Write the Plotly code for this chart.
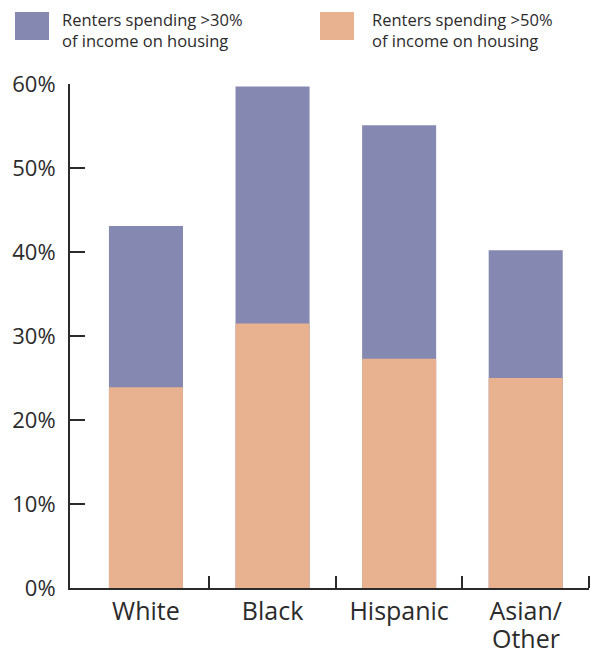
import plotly.graph_objects as go

categories = ["White", "Black", "Hispanic", "Asian/<br>Other"]
over30 = [43.1, 59.7, 55.1, 40.2]
over50 = [23.9, 31.5, 27.3, 25.0]
series_names = ["Renters spending >30%<br>of income on housing",
                "Renters spending >50%<br>of income on housing"]
y_ticks = [0, 10, 20, 30, 40, 50, 60]
y_ticktext = [f"{v}%" for v in y_ticks]

PURPLE = "#8588B0"
ORANGE = "#E8B18F"
TEXT = "#2b2b2b"

# page has an 8px body margin; figure is sized so it fits the 600x649 window
OFF = 8
W, H = 600 - OFF, 649 - OFF
ML, MR, MT, MB = 70 - OFF, 11, 84 - OFF, 61
pw, ph = W - ML - MR, H - MT - MB

def px(x):
    return (x - OFF - ML) / pw

def py(y):
    return (H - MB - (y - OFF)) / ph

xpos = list(range(len(categories)))
first_lines = [c.split("<br>")[0] for c in categories]
extra_lines = [c.split("<br>")[1:] for c in categories]

fig = go.Figure()
fig.add_trace(go.Bar(x=xpos, y=over30, marker_color=PURPLE, width=0.585,
                     name=series_names[0], marker_line_width=0))
fig.add_trace(go.Bar(x=xpos, y=over50, marker_color=ORANGE, width=0.585,
                     name=series_names[1], marker_line_width=0))

fig.update_layout(
    width=W, height=H,
    margin=dict(l=ML, r=MR, t=MT, b=MB, autoexpand=False),
    barmode="overlay",
    showlegend=False,
    plot_bgcolor="white", paper_bgcolor="white",
    font=dict(family="Open Sans", color=TEXT),
    xaxis=dict(
        range=[-0.6, 3.5], tickvals=xpos, ticktext=first_lines,
        ticks="", showline=True, linecolor=TEXT, linewidth=2,
        showgrid=False, zeroline=False, automargin=False,
        tickfont=dict(size=25, color=TEXT), ticklabelstandoff=0,
        minor=dict(tickvals=[0.5, 1.5, 2.5, 3.5], ticks="inside",
                   ticklen=12, tickwidth=1.5, tickcolor=TEXT, showgrid=False),
    ),
    yaxis=dict(
        range=[0, 60], tickvals=y_ticks, ticktext=y_ticktext,
        ticks="inside", ticklen=15, tickwidth=2, tickcolor=TEXT,
        showline=True, linecolor=TEXT, linewidth=2,
        showgrid=False, zeroline=False, automargin=False,
        tickfont=dict(size=22, color=TEXT), ticklabelstandoff=8,
    ),
)

# continuation lines of wrapped category labels (tighter line spacing)
for xi, lines in zip(xpos, extra_lines):
    for k, line in enumerate(lines):
        fig.add_annotation(xref="x", yref="paper", x=xi, y=py(638 + 29 * k),
                           text=line, showarrow=False, xanchor="center",
                           yanchor="middle",
                           font=dict(size=25, color=TEXT, family="Open Sans"))

# custom legend swatches and texts
legend_items = [(15, 49, 60, PURPLE, series_names[0]),
                (320, 354, 370, ORANGE, series_names[1])]
for x0, x1, tx, col, name in legend_items:
    fig.add_shape(type="rect", xref="paper", yref="paper",
                  x0=px(x0), x1=px(x1), y0=py(40), y1=py(12),
                  fillcolor=col, line_width=0)
    fig.add_annotation(xref="paper", yref="paper", x=px(tx), y=py(30),
                       text=name, showarrow=False, xanchor="left",
                       yanchor="middle", align="left",
                       font=dict(size=16.5, color=TEXT, family="Open Sans"))

fig.write_html("out.html")
